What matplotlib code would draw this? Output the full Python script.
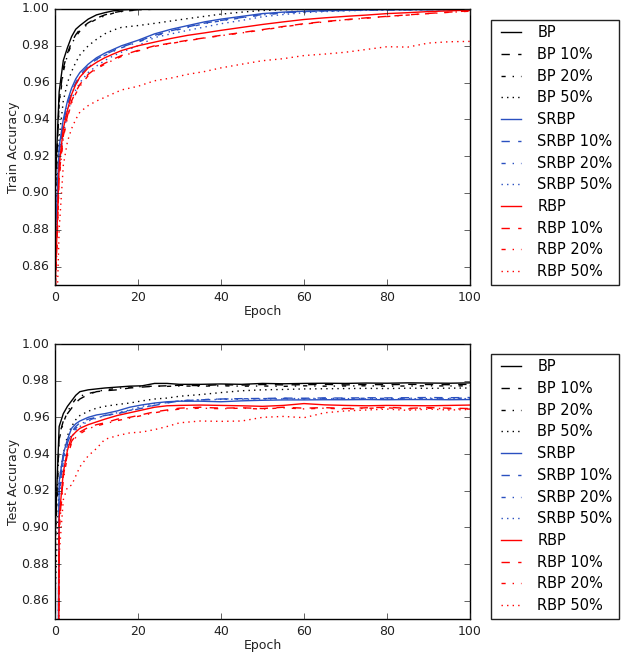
import matplotlib
matplotlib.use("Agg")
import matplotlib.pyplot as plt

plt.style.use("classic")
plt.rcParams["figure.facecolor"] = "white"
plt.rcParams["savefig.facecolor"] = "white"
plt.rcParams["font.family"] = ["DejaVu Sans"]

# ---------------- data ----------------
train_epochs = [0, 1, 2, 3, 4, 5, 6, 8, 10, 12, 14, 16, 20, 24, 28, 32, 36, 40,
                45, 50, 55, 60, 65, 70, 75, 80, 85, 90, 95, 100]

train_bp = [0.900, 0.955, 0.972, 0.979, 0.985, 0.989, 0.991, 0.9945, 0.9968, 0.9980,
            0.9990, 0.9995, 0.9999, 1.0, 1.0, 1.0, 1.0, 1.0,
            1.0, 1.0, 1.0, 1.0, 1.0, 1.0, 1.0, 1.0, 1.0, 1.0, 1.0, 1.0]
train_bp10 = [0.895, 0.950, 0.968, 0.976, 0.982, 0.986, 0.989, 0.9925, 0.9950, 0.9968,
              0.9980, 0.9988, 0.9996, 0.9999, 1.0, 1.0, 1.0, 1.0,
              1.0, 1.0, 1.0, 1.0, 1.0, 1.0, 1.0, 1.0, 1.0, 1.0, 1.0, 1.0]
train_bp20 = [0.893, 0.948, 0.966, 0.975, 0.981, 0.985, 0.988, 0.9920, 0.9945, 0.9963,
              0.9977, 0.9986, 0.9995, 0.9999, 1.0, 1.0, 1.0, 1.0,
              1.0, 1.0, 1.0, 1.0, 1.0, 1.0, 1.0, 1.0, 1.0, 1.0, 1.0, 1.0]
train_bp50 = [0.880, 0.930, 0.950, 0.960, 0.966, 0.971, 0.975, 0.980, 0.9835, 0.9865,
              0.9885, 0.9900, 0.9910, 0.9922, 0.9935, 0.9948, 0.9960, 0.9972,
              0.9983, 0.9992, 0.9996, 0.9998, 0.9999, 1.0, 1.0, 1.0, 1.0, 1.0, 1.0, 1.0]

train_srbp = [0.870, 0.925, 0.940, 0.950, 0.957, 0.962, 0.9655, 0.970, 0.9735, 0.976,
              0.978, 0.980, 0.983, 0.9865, 0.989, 0.991, 0.993, 0.9945,
              0.996, 0.9975, 0.9983, 0.9988, 0.9991, 0.9993, 0.9995, 0.9996, 0.9996, 0.9997, 0.9997, 0.9997]
train_srbp10 = [0.868, 0.922, 0.938, 0.948, 0.955, 0.960, 0.964, 0.969, 0.9727, 0.9752,
                0.9773, 0.9793, 0.9823, 0.9857, 0.9882, 0.9903, 0.9923, 0.9938,
                0.9954, 0.9970, 0.9980, 0.9986, 0.9990, 0.9992, 0.9994, 0.9995, 0.9996, 0.9997, 0.9997, 0.9997]
train_srbp20 = [0.866, 0.921, 0.937, 0.947, 0.954, 0.959, 0.963, 0.968, 0.9722, 0.9748,
                0.9769, 0.9789, 0.9820, 0.9853, 0.9879, 0.9900, 0.9920, 0.9936,
                0.9952, 0.9968, 0.9978, 0.9985, 0.9989, 0.9992, 0.9994, 0.9995, 0.9996, 0.9996, 0.9997, 0.9997]
train_srbp50 = [0.860, 0.915, 0.932, 0.943, 0.951, 0.956, 0.960, 0.9655, 0.969, 0.972,
                0.9745, 0.9765, 0.980, 0.9845, 0.9865, 0.9884, 0.9902, 0.992,
                0.9938, 0.9958, 0.9970, 0.9980, 0.9986, 0.9990, 0.9993, 0.9994, 0.9995, 0.9996, 0.9996, 0.9997]

train_rbp = [0.845, 0.915, 0.935, 0.945, 0.9536, 0.959, 0.963, 0.968, 0.971, 0.9735,
             0.9755, 0.9774, 0.980, 0.982, 0.984, 0.9857, 0.987, 0.9884,
             0.990, 0.9916, 0.993, 0.9943, 0.9952, 0.996, 0.9967, 0.9975, 0.998, 0.9986, 0.999, 0.9994]
train_rbp10 = [0.840, 0.910, 0.931, 0.942, 0.950, 0.955, 0.959, 0.9645, 0.968, 0.9705,
               0.9727, 0.9747, 0.9775, 0.980, 0.9815, 0.983, 0.9843, 0.9857,
               0.9872, 0.9888, 0.9905, 0.992, 0.9932, 0.9942, 0.9952, 0.996, 0.9968, 0.9976, 0.9983, 0.999]
train_rbp20 = [0.838, 0.908, 0.930, 0.941, 0.949, 0.954, 0.958, 0.9638, 0.9675, 0.9700,
               0.9722, 0.9742, 0.9772, 0.9797, 0.9813, 0.9828, 0.9842, 0.9855,
               0.9870, 0.9886, 0.9903, 0.9918, 0.9930, 0.9941, 0.9950, 0.9959, 0.9967, 0.9975, 0.9982, 0.9988]
train_rbp50 = [0.800, 0.880, 0.915, 0.928, 0.935, 0.940, 0.944, 0.9475, 0.950, 0.952,
               0.954, 0.956, 0.958, 0.961, 0.9625, 0.9645, 0.966, 0.968,
               0.970, 0.9719, 0.973, 0.9747, 0.9755, 0.9765, 0.978, 0.9795, 0.9793, 0.9815, 0.9822, 0.9824]

test_epochs = [0, 1, 2, 3, 4, 5, 6, 8, 10, 12, 15, 18, 21, 24, 27, 30, 35, 40,
               45, 50, 55, 60, 65, 70, 75, 80, 85, 90, 95, 100]

test_bp = [0.895, 0.955, 0.962, 0.966, 0.969, 0.972, 0.974, 0.975, 0.9755, 0.976,
           0.9765, 0.977, 0.9772, 0.9785, 0.9785, 0.978, 0.978, 0.9782,
           0.978, 0.9785, 0.9783, 0.9785, 0.9786, 0.9785, 0.9787, 0.9786, 0.9788, 0.9787, 0.9786, 0.9788]
test_bp10 = [0.890, 0.950, 0.958, 0.962, 0.965, 0.968, 0.970, 0.9725, 0.974, 0.9745,
             0.975, 0.976, 0.9765, 0.977, 0.9772, 0.9775, 0.9773, 0.9778,
             0.9776, 0.9779, 0.9777, 0.9778, 0.9780, 0.9777, 0.9779, 0.9778, 0.9780, 0.9779, 0.9778, 0.9780]
test_bp20 = [0.885, 0.948, 0.957, 0.963, 0.967, 0.970, 0.9715, 0.973, 0.974, 0.975,
             0.9758, 0.9765, 0.9768, 0.977, 0.9769, 0.9771, 0.9770, 0.9772,
             0.9770, 0.9771, 0.9769, 0.9772, 0.9770, 0.9771, 0.9772, 0.9770, 0.9771, 0.9772, 0.9771, 0.9772]
test_bp50 = [0.860, 0.925, 0.940, 0.950, 0.955, 0.9587, 0.961, 0.9633, 0.965, 0.966,
             0.967, 0.9678, 0.969, 0.970, 0.9705, 0.9715, 0.9724, 0.9735,
             0.9745, 0.975, 0.9752, 0.9755, 0.9756, 0.9757, 0.9758, 0.9757, 0.9759, 0.9758, 0.9759, 0.9760]

test_srbp = [0.500, 0.925, 0.940, 0.948, 0.954, 0.9565, 0.958, 0.960, 0.9613, 0.962,
             0.9635, 0.9655, 0.9668, 0.9678, 0.9685, 0.9688, 0.9688, 0.9685,
             0.9690, 0.9693, 0.9695, 0.9695, 0.9696, 0.9696, 0.9697, 0.9696, 0.9697, 0.9697, 0.9696, 0.9697]
test_srbp10 = [0.500, 0.920, 0.938, 0.946, 0.952, 0.955, 0.957, 0.959, 0.960, 0.961,
               0.962, 0.9635, 0.965, 0.9665, 0.9678, 0.969, 0.9695, 0.970,
               0.9702, 0.9703, 0.9705, 0.9704, 0.9706, 0.9705, 0.9707, 0.9706, 0.9707, 0.9708, 0.9707, 0.9708]
test_srbp20 = [0.500, 0.918, 0.936, 0.945, 0.951, 0.954, 0.956, 0.9585, 0.9598, 0.9608,
               0.9622, 0.9638, 0.9652, 0.9667, 0.9680, 0.9690, 0.9696, 0.9700,
               0.9701, 0.9702, 0.9703, 0.9702, 0.9704, 0.9703, 0.9704, 0.9703, 0.9704, 0.9705, 0.9704, 0.9705]
test_srbp50 = [0.500, 0.915, 0.935, 0.943, 0.949, 0.953, 0.955, 0.958, 0.9595, 0.961,
               0.9625, 0.964, 0.966, 0.9675, 0.968, 0.969, 0.9695, 0.9698,
               0.9699, 0.9700, 0.9701, 0.9700, 0.9701, 0.9702, 0.9701, 0.9702, 0.9701, 0.9702, 0.9702, 0.9702]

test_rbp = [0.100, 0.905, 0.930, 0.942, 0.9496, 0.952, 0.954, 0.956, 0.9575, 0.959,
            0.961, 0.9625, 0.964, 0.9655, 0.9663, 0.9665, 0.9667, 0.9665,
            0.9663, 0.9660, 0.9665, 0.9675, 0.9668, 0.9665, 0.9663, 0.9665, 0.9664, 0.9663, 0.9665, 0.9667]
test_rbp10 = [0.100, 0.900, 0.928, 0.940, 0.947, 0.950, 0.952, 0.9545, 0.956, 0.957,
              0.959, 0.960, 0.9615, 0.963, 0.964, 0.965, 0.9655, 0.9650,
              0.9652, 0.9648, 0.9655, 0.9650, 0.9653, 0.9648, 0.9652, 0.9655, 0.9649, 0.9653, 0.9650, 0.9648]
test_rbp20 = [0.100, 0.898, 0.926, 0.939, 0.946, 0.949, 0.951, 0.9538, 0.9553, 0.9565,
              0.9582, 0.9596, 0.9610, 0.9625, 0.9636, 0.9645, 0.9650, 0.9647,
              0.9650, 0.9645, 0.9652, 0.9646, 0.9650, 0.9645, 0.9649, 0.9652, 0.9646, 0.9650, 0.9647, 0.9645]
test_rbp50 = [0.100, 0.885, 0.915, 0.922, 0.923, 0.928, 0.933, 0.939, 0.943, 0.948,
              0.950, 0.9515, 0.952, 0.9533, 0.955, 0.957, 0.958, 0.9578,
              0.958, 0.960, 0.9605, 0.9598, 0.9625, 0.9635, 0.964, 0.9645, 0.9638, 0.9645, 0.964, 0.9643]

labels = ["BP", "BP 10%", "BP 20%", "BP 50%",
          "SRBP", "SRBP 10%", "SRBP 20%", "SRBP 50%",
          "RBP", "RBP 10%", "RBP 20%", "RBP 50%"]

# ---------------- styling ----------------
colors = ["k"] * 4 + ["#2a50c0"] * 4 + ["r"] * 4
styles = ["-", "--", "-.", ":"] * 3

train_series = [train_bp, train_bp10, train_bp20, train_bp50,
                train_srbp, train_srbp10, train_srbp20, train_srbp50,
                train_rbp, train_rbp10, train_rbp20, train_rbp50]
test_series = [test_bp, test_bp10, test_bp20, test_bp50,
               test_srbp, test_srbp10, test_srbp20, test_srbp50,
               test_rbp, test_rbp10, test_rbp20, test_rbp50]

fig = plt.figure(figsize=(6.27, 6.60), dpi=100)
ax1 = fig.add_axes([55 / 627, 1 - 285 / 660, 415 / 627, 276 / 660])
ax2 = fig.add_axes([55 / 627, 1 - 619 / 660, 415 / 627, 275 / 660])

for ax, xs, series, ylabel in [(ax1, train_epochs, train_series, "Train Accuracy"),
                               (ax2, test_epochs, test_series, "Test Accuracy")]:
    for ys, c, ls, lab in zip(series, colors, styles, labels):
        ax.plot(xs, ys, color=c, linestyle=ls, linewidth=1.0, label=lab)
    ax.set_xlim(0, 100)
    ax.set_ylim(0.85, 1.00)
    ax.set_xticks([0, 20, 40, 60, 80, 100])
    ax.set_yticks([0.86, 0.88, 0.90, 0.92, 0.94, 0.96, 0.98, 1.00])
    ax.set_yticklabels(["0.86", "0.88", "0.90", "0.92", "0.94", "0.96", "0.98", "1.00"])
    ax.tick_params(labelsize=9, colors="#222222", labelcolor="#222222")
    ax.set_xlabel("Epoch", fontsize=9, color="#222222", labelpad=1)
    ax.set_ylabel(ylabel, fontsize=9, color="#222222", labelpad=1)
    leg = ax.legend(loc="lower left", bbox_to_anchor=(1.05, 0.0), borderaxespad=0.0,
                    fontsize=10.5, labelspacing=0.46, numpoints=2, frameon=True,
                    fancybox=False)
    leg.get_frame().set_edgecolor("#222222")

fig.savefig("out.png", dpi=100)
